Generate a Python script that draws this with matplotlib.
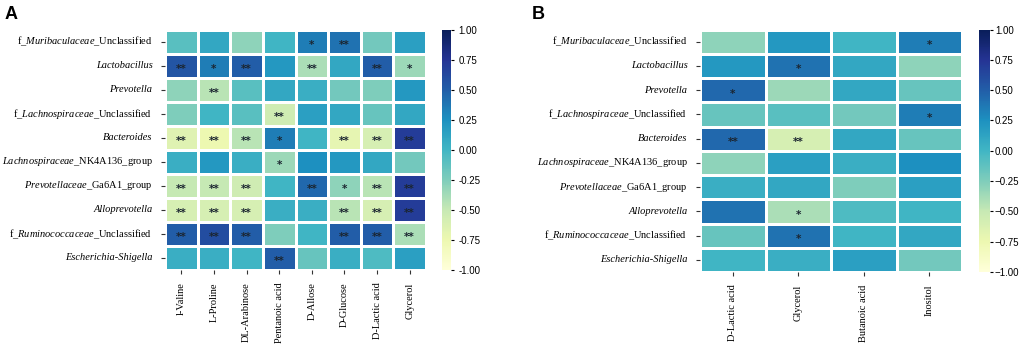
import numpy as np
import matplotlib
matplotlib.use("Agg")
import matplotlib.pyplot as plt
import seaborn as sns

plt.rcParams['font.family'] = ['Liberation Serif', 'DejaVu Serif']
plt.rcParams['mathtext.fontset'] = 'custom'
plt.rcParams['mathtext.rm'] = 'Liberation Serif'
plt.rcParams['mathtext.it'] = 'Liberation Serif:italic'
plt.rcParams['axes.unicode_minus'] = False

# labels without "$" are fully italic, the others mix italic and roman
genera = [
    r"f_$\mathit{Muribaculaceae}$_Unclassified",
    "Lactobacillus",
    "Prevotella",
    r"f_$\mathit{Lachnospiraceae}$_Unclassified",
    "Bacteroides",
    r"$\mathit{Lachnospiraceae}$_NK4A136_group",
    r"$\mathit{Prevotellaceae}$_Ga6A1_group",
    "Alloprevotella",
    r"f_$\mathit{Ruminococcaceae}$_Unclassified",
    "Escherichia-Shigella",
]

metab_a = ["l-Valine", "L-Proline", "DL-Arabinose", "Pentanoic acid",
           "D-Allose", "D-Glucose", "D-Lactic acid", "Glycerol"]
metab_b = ["D-Lactic acid", "Glycerol", "Butanoic acid", "Inositol"]

# correlation values
corr_a = np.array([
    [-0.10, 0.10, -0.30, 0.00, 0.35, 0.40, -0.20, 0.15],
    [0.55, 0.35, 0.50, 0.20, -0.40, 0.10, 0.50, -0.35],
    [-0.30, -0.45, -0.10, 0.10, 0.05, -0.20, -0.25, 0.20],
    [-0.25, 0.00, -0.10, -0.55, 0.15, 0.10, -0.15, 0.10],
    [-0.65, -0.75, -0.45, 0.35, 0.00, -0.70, -0.60, 0.70],
    [0.05, 0.20, 0.05, -0.35, 0.25, 0.20, 0.10, -0.20],
    [-0.50, -0.50, -0.55, 0.00, 0.45, -0.30, -0.45, 0.70],
    [-0.60, -0.60, -0.60, 0.05, 0.05, -0.45, -0.60, 0.70],
    [0.50, 0.60, 0.50, -0.25, 0.00, 0.50, 0.50, -0.40],
    [0.05, 0.05, 0.00, 0.50, -0.15, 0.05, -0.05, 0.15],
])
stars_a = [
    ["", "", "", "", "*", "**", "", ""],
    ["**", "*", "**", "", "**", "", "**", "*"],
    ["", "**", "", "", "", "", "", ""],
    ["", "", "", "**", "", "", "", ""],
    ["**", "**", "**", "*", "", "**", "**", "**"],
    ["", "", "", "*", "", "", "", ""],
    ["**", "**", "**", "", "**", "*", "**", "**"],
    ["**", "**", "**", "", "", "**", "**", "**"],
    ["**", "**", "**", "", "", "**", "**", "**"],
    ["", "", "", "**", "", "", "", ""],
]

corr_b = np.array([
    [-0.30, 0.20, 0.00, 0.35],
    [0.20, 0.40, 0.10, -0.30],
    [0.45, -0.35, 0.10, -0.15],
    [-0.15, -0.10, -0.20, 0.35],
    [0.45, -0.60, 0.10, -0.15],
    [-0.30, 0.15, 0.05, 0.25],
    [0.05, 0.10, -0.25, 0.15],
    [0.40, -0.40, -0.05, 0.00],
    [-0.15, 0.40, 0.00, 0.10],
    [0.00, 0.05, 0.15, -0.20],
])
stars_b = [
    ["", "", "", "*"],
    ["", "*", "", ""],
    ["*", "", "", ""],
    ["", "", "", "*"],
    ["**", "**", "", ""],
    ["", "", "", ""],
    ["", "", "", ""],
    ["", "*", "", ""],
    ["", "*", "", ""],
    ["", "", "", ""],
]

W, H = 1021, 347
fig = plt.figure(figsize=(W / 100, H / 100), dpi=100)


def px_axes(x0, y0, x1, y1):
    return fig.add_axes([x0 / W, 1 - y1 / H, (x1 - x0) / W, (y1 - y0) / H])


def draw_panel(ax, cax, data, stars, cols, minus, cpad):
    sns.heatmap(data, ax=ax, cbar_ax=cax, cmap="YlGnBu", vmin=-1, vmax=1,
                linewidths=0.8, linecolor="white",
                xticklabels=cols, yticklabels=genera)
    for i in range(data.shape[0]):
        for j in range(data.shape[1]):
            if stars[i][j]:
                ax.text(j + 0.5, i + 0.64, stars[i][j], ha="center", va="center",
                        fontsize=7.5, color="#1b2530", family="DejaVu Sans",
                        fontweight="bold")
    ax.tick_params(axis="both", length=3, width=0.8, color="#333333", pad=6)
    ax.set_yticklabels(genera, rotation=0, fontsize=7.5)
    for lab in ax.get_yticklabels():
        if "$" not in lab.get_text():
            lab.set_fontstyle("italic")
    ax.set_xticklabels(cols, rotation=90, fontsize=7.5)
    cax.tick_params(labelsize=7, length=2.5, width=0.8, pad=cpad)
    ticks = [-1, -0.75, -0.5, -0.25, 0, 0.25, 0.5, 0.75, 1]
    cax.set_yticks(ticks)
    cax.set_yticklabels([("%.2f" % t).replace("-", minus) for t in ticks],
                        family="Liberation Sans")


ax_a = px_axes(165, 29.5, 426, 270)
cax_a = px_axes(442, 29.5, 451, 270)
draw_panel(ax_a, cax_a, corr_a, stars_a, metab_a, "-", 3)

ax_b = px_axes(700, 29.5, 962, 272)
cax_b = px_axes(979, 29.5, 990, 272)
draw_panel(ax_b, cax_b, corr_b, stars_b, metab_b, "\u2212", 1)

fig.text(5 / W, 1 - 19 / H, "A", fontsize=13, fontweight="bold", family="Liberation Sans")
fig.text(532 / W, 1 - 19 / H, "B", fontsize=13, fontweight="bold", family="Liberation Sans")

fig.savefig("out.png", dpi=100)
